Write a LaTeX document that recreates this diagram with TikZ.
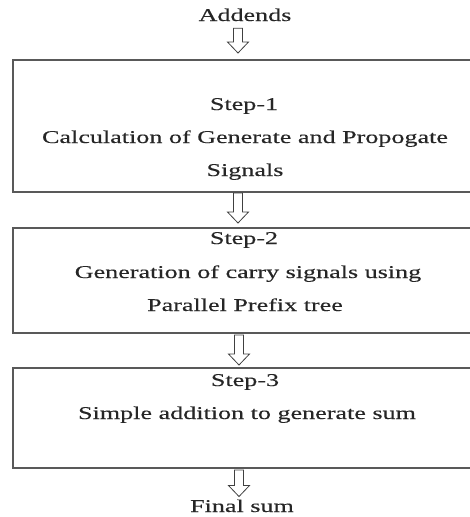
\documentclass[tikz,border=0pt]{standalone}
\usepackage{fontspec}
\setmainfont{Liberation Serif}[FakeStretch=1.45, FakeBold=0.25]
\usetikzlibrary{calc}

\tikzset{
  stagebox/.style={draw=black!65, line width=1.3pt, rectangle, inner sep=0pt, outer sep=0pt},
  label text/.style={anchor=base, inner sep=0pt, outer sep=0pt, text=black!85,
                     font=\fontsize{18}{20}\selectfont},
  hollow/.style={draw=black!75, line width=0.8pt, fill=white, line join=miter}
}

% hollow down-pointing block arrow between two nodes:
% #1 from node, #2 to node, #3 x position, #4 gap below #1, #5 gap above #2
\newcommand\hollowdown[5]{%
  \draw[hollow] let \p1=(#1.south), \p2=(#2.north) in
    ({#3-4.5pt},{\y1-#4}) -- ({#3+4.5pt},{\y1-#4}) -- ({#3+4.5pt},{\y2+#5+11pt})
    -- ({#3+10.5pt},{\y2+#5+11pt}) -- ({#3},{\y2+#5}) -- ({#3-10.5pt},{\y2+#5+11pt})
    -- ({#3-4.5pt},{\y2+#5+11pt}) -- cycle;
}

\begin{document}
\begin{tikzpicture}[x={(1pt,0)}, y={(0,-1pt)}]
  \useasboundingbox (0,0) rectangle (470,517);
  \clip (0,0) rectangle (470,517);

  % input and output labels
  \node[label text] (addends) at (245,21) {Addends};
  \node[label text] (finalsum) at (242,512) {Final sum};

  % the three stages
  \node[stagebox, minimum width=467pt, minimum height=132pt] (box1) at (246.5,126) {};
  \node[stagebox, minimum width=467pt, minimum height=105pt] (box2) at (246.5,280.5) {};
  \node[stagebox, minimum width=467pt, minimum height=100pt] (box3) at (246.5,418) {};

  % stage texts
  \node[label text] (s1) at (244,110) {Step-1};
  \node[label text] (c1) at (245,143) {Calculation of Generate and Propogate};
  \node[label text] (d1) at (245,176) {Signals};

  \node[label text] (s2) at (244,244) {Step-2};
  \node[label text] (c2) at (248,278) {Generation of carry signals using};
  \node[label text] (d2) at (245,311) {Parallel Prefix tree};

  \node[label text] (s3) at (245,386) {Step-3};
  \node[label text] (c3) at (247,419) {Simple addition to generate sum};

  % connectors
  \hollowdown{addends}{box1}{238pt}{7pt}{7pt}
  \hollowdown{box1}{box2}{238pt}{1pt}{5pt}
  \hollowdown{box2}{box3}{239pt}{2pt}{3pt}
  \hollowdown{box3}{finalsum}{239pt}{2pt}{3pt}
\end{tikzpicture}
\end{document}
